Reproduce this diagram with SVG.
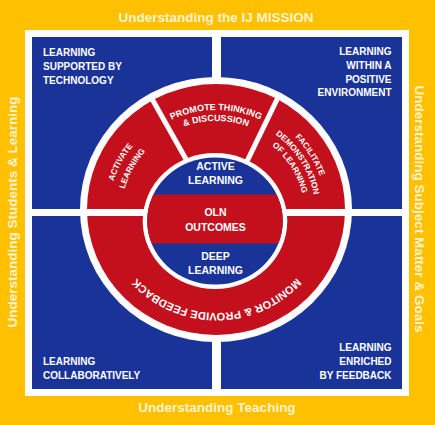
<svg xmlns="http://www.w3.org/2000/svg" width="435" height="425" viewBox="0 0 435 425">
<style>
.t{font-family:"Liberation Sans",Arial,sans-serif;font-weight:bold}
.frame{font-size:13.5px;fill:#FFF4CF;text-anchor:middle}
.q{font-size:10px;fill:#fff}
.c{font-size:10.5px;fill:#fff;text-anchor:middle}
.r{font-size:8.3px;fill:#fff;text-anchor:middle}
.blue{fill:#1A3399}
.red{fill:#C4101C}
.wh{fill:#fff}
.div{stroke:#fff;stroke-width:5;fill:none}
</style>
<defs>
<path id="pPro" d="M 111 215 A 105 105 0 0 1 321 215"/>
<path id="pDis" d="M 122 215 A 94 94 0 0 1 310 215"/>
<path id="pAct1" d="M 108 215 A 108 108 0 0 1 324 215"/>
<path id="pAct2" d="M 121 215 A 95 95 0 0 1 311 215"/>
<path id="pFac1" d="M 105 215 A 111 111 0 0 1 327 215"/>
<path id="pFac2" d="M 116 215 A 100 100 0 0 1 316 215"/>
<path id="pFac3" d="M 127 215 A 89 89 0 0 1 305 215"/>
<path id="pMon" d="M 325.5 204 A 109 109 0 0 1 107.5 204"/>
<clipPath id="coreClip"><ellipse cx="215" cy="221" rx="67.8" ry="63.5"/></clipPath>
</defs>

<g id="frame">
<rect x="0" y="0" width="435" height="425" fill="#FFC000"/>
<rect x="25" y="30" width="384" height="366" class="wh"/>
<text class="t frame" x="216" y="22">Understanding the IJ MISSION</text>
<text class="t frame" x="217" y="412">Understanding Teaching</text>
<text class="t frame" transform="translate(17,212) rotate(-90)">Understanding Students &amp; Learning</text>
<text class="t frame" transform="translate(415,209) rotate(90)">Understanding Subject Matter &amp; Goals</text>
</g>

<g id="q-technology">
<rect x="32" y="37" width="180" height="172" class="blue"/>
<text class="t q" x="43" y="56.3">LEARNING</text>
<text class="t q" x="43" y="70">SUPPORTED BY</text>
<text class="t q" x="43" y="83.7">TECHNOLOGY</text>
</g>
<g id="q-positive">
<rect x="221" y="37" width="181" height="172" class="blue"/>
<text class="t q" x="391.5" y="55" text-anchor="end">LEARNING</text>
<text class="t q" x="391.5" y="69" text-anchor="end">WITHIN A</text>
<text class="t q" x="391.5" y="82.5" text-anchor="end">POSITIVE</text>
<text class="t q" x="391.5" y="96" text-anchor="end">ENVIRONMENT</text>
</g>
<g id="q-collab">
<rect x="32" y="216" width="180" height="173" class="blue"/>
<text class="t q" x="43" y="365">LEARNING</text>
<text class="t q" x="43" y="379.3">COLLABORATIVELY</text>
</g>
<g id="q-feedback">
<rect x="221" y="216" width="181" height="173" class="blue"/>
<text class="t q" x="391.5" y="351" text-anchor="end">LEARNING</text>
<text class="t q" x="391.5" y="365" text-anchor="end">ENRICHED</text>
<text class="t q" x="391.5" y="379" text-anchor="end">BY FEEDBACK</text>
</g>

<g id="ring">
<ellipse cx="216" cy="209.5" rx="136" ry="132.5" class="wh"/>
<ellipse cx="216" cy="209.5" rx="129" ry="125.5" class="red"/>
</g>

<g id="connectors">
<rect x="80" y="209" width="275" height="7" class="wh"/>
<line class="div" x1="191.5" y1="169.1" x2="149.7" y2="94.8"/>
<line class="div" x1="243" y1="169.7" x2="279" y2="95.4"/>
</g>

<g id="seg-activate">
<text class="t r"><textPath href="#pAct1" startOffset="16.1%">ACTIVATE</textPath></text>
<text class="t r"><textPath href="#pAct2" startOffset="16.1%">LEARNING</textPath></text>
</g>
<g id="seg-promote">
<text class="t r" style="font-size:9px"><textPath href="#pPro" startOffset="50%">PROMOTE THINKING</textPath></text>
<text class="t r" style="font-size:9px"><textPath href="#pDis" startOffset="50%">&amp; DISCUSSION</textPath></text>
</g>
<g id="seg-facilitate">
<text class="t r"><textPath href="#pFac1" startOffset="81.9%">FACILITATE</textPath></text>
<text class="t r"><textPath href="#pFac2" startOffset="81.9%">DEMONSTRATION</textPath></text>
<text class="t r"><textPath href="#pFac3" startOffset="81.9%">OF LEARNING</textPath></text>
</g>
<g id="seg-monitor">
<text class="t r" style="font-size:11px"><textPath href="#pMon" startOffset="50%">MONITOR &amp; PROVIDE FEEDBACK</textPath></text>
</g>

<g id="core">
<ellipse cx="215" cy="221" rx="72.3" ry="68" class="wh"/>
<ellipse cx="215" cy="221" rx="67.8" ry="63.5" class="blue"/>
<rect x="140" y="194.5" width="150" height="49" class="red" clip-path="url(#coreClip)"/>
<text class="t c" x="215.5" y="170">ACTIVE</text>
<text class="t c" x="215.5" y="184.3">LEARNING</text>
<text class="t c" x="215.5" y="216">OLN</text>
<text class="t c" x="215.5" y="230.5">OUTCOMES</text>
<text class="t c" x="215.5" y="260">DEEP</text>
<text class="t c" x="215.5" y="273.5">LEARNING</text>
</g>
</svg>
